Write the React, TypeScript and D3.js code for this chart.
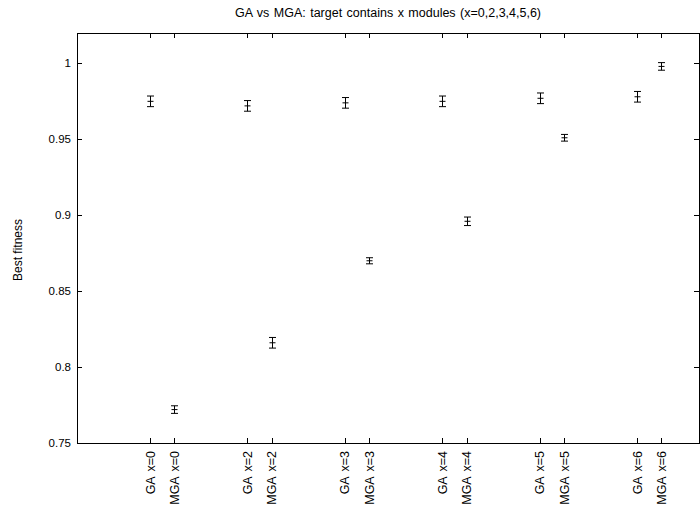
import React, { useRef, useEffect } from 'react'
import * as d3 from 'd3'

const labels = ['GA x=0', 'MGA x=0', 'GA x=2', 'MGA x=2', 'GA x=3', 'MGA x=3',
    'GA x=4', 'MGA x=4', 'GA x=5', 'MGA x=5', 'GA x=6', 'MGA x=6']
const positions = [0, 1, 4, 5, 8, 9, 12, 13, 16, 17, 20, 21]
const means = [0.975, 0.772, 0.972, 0.816, 0.974, 0.870, 0.975, 0.896, 0.977, 0.951, 0.978, 0.998]
const errors = [0.0035, 0.0025, 0.0035, 0.0035, 0.0035, 0.002, 0.0035, 0.0028, 0.0035, 0.0022, 0.0035, 0.0025]
const yTicks = [0.75, 0.8, 0.85, 0.9, 0.95, 1]

const w = 700
const h = 511

export default function App() {
    const ref = useRef<SVGSVGElement>(null)

    useEffect(() => {
        const svg = d3.select(ref.current)
        const left = 77, right = 699, top = 33, bottom = 443
        const font = 'Liberation Sans, Arial, sans-serif'

        const x = d3.scaleLinear().domain([-3, 22.54]).range([left, right])
        const y = d3.scaleLinear().domain([0.75, 1.02]).range([bottom, top])

        const g = svg.append('g')

        // frame
        g.append('rect')
            .attr('x', left + 0.5).attr('y', top + 0.5)
            .attr('width', right - left).attr('height', bottom - top)
            .attr('fill', 'none').attr('stroke', '#000').attr('stroke-width', 1)

        // y ticks (inward, mirrored) + labels
        yTicks.forEach(t => {
            const py = Math.round(y(t)) + 0.5
            g.append('line')
                .attr('x1', left).attr('x2', left + 5)
                .attr('y1', py).attr('y2', py)
                .attr('stroke', '#000')
            g.append('line')
                .attr('x1', right - 5).attr('x2', right)
                .attr('y1', py).attr('y2', py)
                .attr('stroke', '#000')
            g.append('text')
                .attr('x', left - 6).attr('y', y(t))
                .attr('dy', '0.35em')
                .attr('text-anchor', 'end')
                .attr('font-family', font).attr('font-size', 11.5)
                .text(d3.format('')(t))
        })

        // x ticks on bottom and top (mirror), rotated labels
        positions.forEach((p, i) => {
            const px = Math.round(x(p)) + 0.5
            g.append('line')
                .attr('x1', px).attr('x2', px)
                .attr('y1', bottom).attr('y2', bottom - 5)
                .attr('stroke', '#000')
            g.append('line')
                .attr('x1', px).attr('x2', px)
                .attr('y1', top).attr('y2', top + 5)
                .attr('stroke', '#000')
            g.append('text')
                .attr('transform', `translate(${x(p) + 4.5}, ${bottom + 8}) rotate(-90)`)
                .attr('text-anchor', 'end')
                .attr('font-family', font).attr('font-size', 12.5)
                .attr('word-spacing', 2)
                .text(labels[i])
        })

        // error bars
        const cap = 3.5
        positions.forEach((p, i) => {
            const px = Math.round(x(p)) + 0.5
            const y0 = y(means[i] - errors[i])
            const y1 = y(means[i] + errors[i])
            const ym = y(means[i])
            g.append('line')
                .attr('x1', px).attr('x2', px).attr('y1', y0).attr('y2', y1)
                .attr('stroke', '#000')
            g.append('line')
                .attr('x1', px - cap).attr('x2', px + cap).attr('y1', y0).attr('y2', y0)
                .attr('stroke', '#000')
            g.append('line')
                .attr('x1', px - cap).attr('x2', px + cap).attr('y1', y1).attr('y2', y1)
                .attr('stroke', '#000')
            // point marker (+)
            g.append('line')
                .attr('x1', px - 3).attr('x2', px + 3).attr('y1', ym).attr('y2', ym)
                .attr('stroke', '#000')
        })

        // title
        g.append('text')
            .attr('x', (left + right) / 2).attr('y', 17)
            .attr('text-anchor', 'middle')
            .attr('font-family', font).attr('font-size', 12.5)
            .attr('word-spacing', 1)
            .text('GA vs MGA: target contains x modules (x=0,2,3,4,5,6)')

        // y label
        g.append('text')
            .attr('transform', `translate(22, 250) rotate(-90)`)
            .attr('text-anchor', 'middle')
            .attr('font-family', font).attr('font-size', 12)
            .text('Best fitness')

        return () => {
            svg.selectAll('*').remove()
        }
    }, [])

    return (
        <svg ref={ref} width={w} height={h}
            style={{ position: 'absolute', left: 0, top: 0, background: '#fff' }} />
    )
}
